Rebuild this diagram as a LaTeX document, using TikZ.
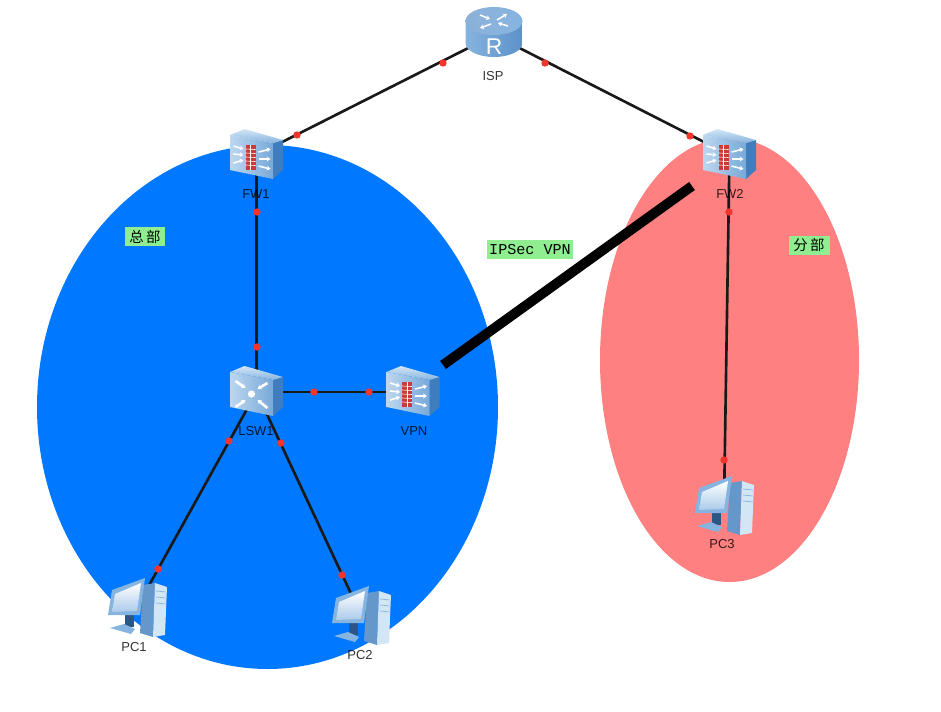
\documentclass[tikz,border=0pt]{standalone}
\usepackage{fontspec}
\setmainfont{Liberation Sans}
\setmonofont{Liberation Mono}
\newfontfamily\cjk{Noto Sans CJK SC}
\usepackage{xcolor}
\usetikzlibrary{arrows.meta,positioning}
\definecolor{hqblue}{HTML}{0078FF}
\definecolor{branchred}{HTML}{FF8080}
\definecolor{notegreen}{HTML}{90EE90}
\definecolor{iconlight}{HTML}{D3E6F6}
\definecolor{iconmid}{HTML}{86B4E0}
\definecolor{icondark}{HTML}{3F7DBE}
\definecolor{portred}{HTML}{F5352B}
\definecolor{brickred}{HTML}{C93A3C}

\begin{document}
\begin{tikzpicture}[
  x=0.02cm, y=-0.02cm,
  device/.style={inner sep=0pt, minimum size=2pt},
  devlabel/.style={font=\fontsize{7.4}{8}\selectfont, inner sep=0pt, text opacity=0.8},
  note/.style={fill=notegreen, inner sep=0pt, minimum height=0.39cm},
  link/.style={draw=black!90, line width=1.5pt},
  port/.style={circle, fill=portred, inner sep=0pt, minimum size=4.2pt},
  wharrow/.style={-{Stealth[length=2.2pt,width=2.8pt]}, white, line width=0.9pt},
  boxbody/.pic={
    \fill[icondark] (16.5,-12) -- (26.5,-15) -- (26.5,15) -- (16.5,24) -- cycle;
    \shade[top color=iconlight, bottom color=iconmid] (-26.5,-20) -- (-12,-26) -- (26.5,-15) -- (16.5,-12) -- cycle;
    \shade[left color=iconlight!70!iconmid, right color=iconmid!80!icondark] (-26.5,-20) -- (16.5,-12) -- (16.5,24) -- (-26.5,15) -- cycle;
  },
  fwicon/.pic={
    \pic {boxbody};
    \fill[brickred] (-11,-10) rectangle (-1,15);
    \foreach \y in {-6,-2,2,6,10} \draw[white, line width=0.35pt] (-11,\y) -- (-1,\y+0.5);
    \draw[white, line width=0.35pt] (-6,-10) -- (-6,15);
    \foreach \a/\b in {-9/-6,-1/0,8/5} \draw[wharrow] (-23,\a) -- (-13,\b);
    \foreach \a/\b in {-4/-7,3/3,10/13} \draw[wharrow] (2,\a+1) -- (14,\b+1);
  },
  swicon/.pic={
    \pic {boxbody};
    \fill[white] (-5,2) circle (3.6);
    \draw[wharrow, line width=1.5pt] (-21,-11) -- (-11,-4);
    \draw[wharrow, line width=1.5pt] (11,-9) -- (1,-3);
    \draw[wharrow, line width=1.5pt] (-21,15) -- (-11,8);
    \draw[wharrow, line width=1.5pt] (11,16) -- (1,8);
  },
  rticon/.pic={
    \shade[left color=iconmid, right color=icondark!85!white] (-28.5,-14) -- (-28.5,8) arc[start angle=180, end angle=0, x radius=28.5, y radius=14] -- (28.5,-14) -- cycle;
    \shade[left color=icondark!60!white, right color=iconmid] (0,-14) ellipse[x radius=28.5, y radius=14];
    \draw[wharrow] (-14,-20) -- (-4,-16);
    \draw[wharrow] (3,-15) -- (13,-21);
    \draw[wharrow] (-3,-11) -- (-14,-7);
    \draw[wharrow] (14,-9) -- (4,-12);
    \node[white, font=\fontsize{13}{13}\selectfont, inner sep=0pt] (rletter) at (0,12) {R};
  },
  pcicon/.pic={
    \fill[icondark!80!white] (6,-22) -- (18,-24) -- (16,30) -- (3,26) -- cycle;
    \fill[iconlight] (18,-24) -- (30,-20) -- (28,28) -- (16,30) -- cycle;
    \foreach \y in {-16,-10,-4} \draw[iconmid, line width=0.4pt] (19,\y) -- (29,\y+1);
    \fill[icondark!70!black] (-12,8) -- (-3,8) -- (-3,20) -- (-12,20) -- cycle;
    \fill[iconmid] (-27,21) -- (-13,17) -- (-2,22) -- (-6,27) -- cycle;
    \fill[iconmid] (-25,-17) -- (8,-29) -- (3,8) -- (-29,8) -- cycle;
    \shade[top color=white, bottom color=iconmid!70!white] (-22,-13) -- (4,-24) -- (0,4) -- (-25,5) -- cycle;
  }
]
\useasboundingbox (0,0) rectangle (941,711);
\fill[white] (0,0) rectangle (941,711);
\fill[hqblue] (267.5,407) ellipse[x radius=230.5, y radius=262];
\fill[branchred] (729.5,360) ellipse[x radius=129.5, y radius=222];

\node[device] (isp) at (494,35) {};
\node[device] (fw1) at (256.5,155) {};
\node[device] (fw2) at (729.5,155) {};
\node[device] (lsw1) at (256.5,392) {};
\node[device] (vpn) at (413,392) {};
\node[device] (pc1) at (137,607) {};
\node[device] (pc2) at (361,615) {};
\node[device] (pc3) at (724,505) {};
\coordinate (tunnela) at (443,365);
\coordinate (tunnelb) at (692,186);

\foreach \a/\b in {isp/fw1,isp/fw2,fw1/lsw1,lsw1/vpn,lsw1/pc1,lsw1/pc2,fw2/pc3} \draw[link] (\a) -- (\b);
\draw[black, line width=5.6pt] (tunnela) -- (tunnelb);

\foreach \n/\x/\y in {p1/443/63,p2/297/135,p3/545/63,p4/690/136,p5/257/212,p6/257/347,p7/314/392,p8/369/392,p9/229/441,p10/158/569,p11/281/443,p12/342/575,p13/729/212,p14/724/460}
  \node[port] (\n) at (\x,\y) {};

\pic at (isp) {rticon};
\pic at (fw1) {fwicon};
\pic at (fw2) {fwicon};
\pic at (lsw1) {swicon};
\pic at (vpn) {fwicon};
\pic at (pc1) {pcicon};
\pic at (pc2) {pcicon};
\pic at (pc3) {pcicon};

\node[devlabel] (ispname) at (493,76) {ISP};
\node[devlabel] (fw1name) at (256,194) {FW1};
\node[devlabel] (fw2name) at (730,194) {FW2};
\node[devlabel] (lsw1name) at (256,431) {LSW1};
\node[devlabel] (vpnname) at (414,431) {VPN};
\node[devlabel] (pc1name) at (134,647) {PC1};
\node[devlabel] (pc2name) at (360,655) {PC2};
\node[devlabel] (pc3name) at (722,544) {PC3};

\node[note, minimum width=0.8cm] (hqnote) at (145,236.5) {\cjk\fontsize{8.2}{9}\selectfont 总\,部};
\node[note, minimum width=0.82cm] (branchnote) at (809,245.5) {\cjk\fontsize{8.2}{9}\selectfont 分\,部};
\node[note, minimum width=1.72cm] (vpnnote) at (530,249.5) {\ttfamily\fontsize{8.6}{9}\selectfont IPSec VPN};
\end{tikzpicture}
\end{document}
